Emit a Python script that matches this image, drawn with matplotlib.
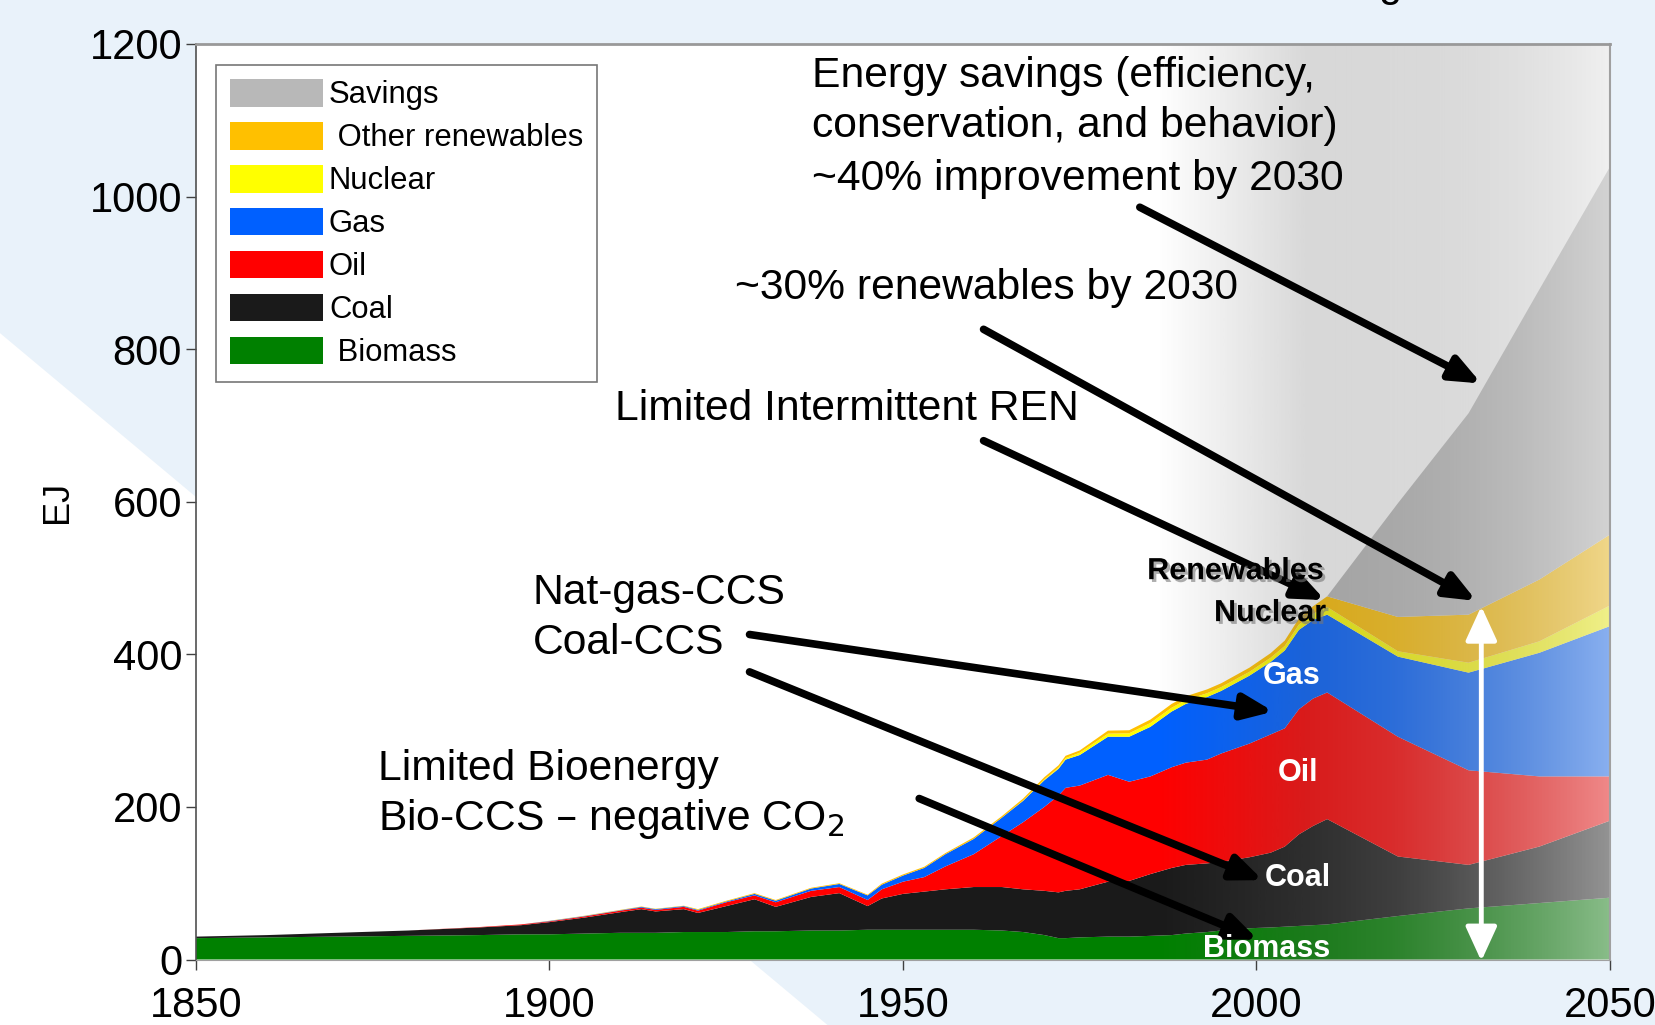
import numpy as np
import matplotlib
matplotlib.use('Agg')
import matplotlib.pyplot as plt
import matplotlib.patheffects as pe
from matplotlib.patches import Polygon

plt.rcParams['font.family'] = ['Liberation Sans', 'DejaVu Sans']

# --- data (EJ per source) ---
years = [1850, 1860, 1870, 1880, 1890, 1896, 1900, 1905, 1910, 1913,
         1915, 1919, 1921, 1925, 1929, 1932, 1937, 1941, 1945, 1947,
         1950, 1953, 1956, 1960, 1964, 1967, 1970, 1972, 1973, 1975,
         1979, 1982, 1985, 1988, 1990, 1993, 1995, 1999, 2002, 2004,
         2006, 2008, 2010, 2020, 2030, 2040, 2050]
biomass = [28, 29, 30, 31, 32, 33, 33, 34, 35, 35,
           35, 36, 36, 36, 37, 37, 38, 38, 39, 39,
           39, 39, 39, 39, 38, 36, 32, 28, 28, 29,
           30, 30, 31, 32, 34, 36, 38, 41, 42, 43,
           44, 45, 46, 57, 67, 74, 81]
coal = [2, 3, 5, 7, 10, 12, 16, 21, 27, 31,
        28, 30, 25, 34, 42, 32, 44, 49, 31, 41,
        47, 50, 53, 56, 57, 56, 58, 60, 62, 63,
        72, 73, 81, 88, 90, 90, 90, 93, 98, 105,
        120, 130, 138, 78, 57, 74, 101]
oil = [0, 0, 0, 0, 0.5, 1, 1, 1.5, 2, 2,
       2, 3, 3, 5, 5, 6, 8, 8, 8, 12,
       16, 19, 30, 43, 67, 88, 110, 127, 135, 136,
       140, 130, 128, 132, 134, 136, 142, 149, 155, 155,
       164, 167, 166, 157, 124, 92, 58]
gas = [0, 0, 0, 0, 0, 0, 0.5, 0.5, 0.5, 1,
       1, 1, 1, 1, 2, 2, 3, 4, 6, 6,
       8, 12, 16, 20, 24, 28, 35, 35, 37, 40,
       50, 59, 65, 73, 77, 82, 82, 89, 95, 102,
       104, 103, 102, 105, 128, 162, 197]
nuclear = [0] * 25 + [0.5, 1, 1.5, 2, 3, 4, 4.5, 5, 5, 5, 5, 5, 5, 5.5, 6,
                      7, 8, 10, 7, 13, 15, 27]
other_ren = [0, 0, 0, 0, 0, 0, 0.3, 0.4, 0.5, 0.5,
             0.5, 0.5, 1, 1, 1, 1, 1, 1, 1, 1.5,
             1.5, 1.5, 1.5, 2, 2, 2.5, 3, 3, 3, 3,
             4, 4, 4.5, 5, 5, 5, 5, 5.5, 6, 7,
             8, 10, 14, 45, 63, 81, 93]
savings = [0] * 43 + [149, 264, 380, 482]

labels = ['Savings', ' Other renewables', 'Nuclear', 'Gas', 'Oil', 'Coal', ' Biomass']
colors = ['#b8b8b8', '#ffc000', '#ffff00', '#0060ff', '#ff0000', '#1a1a1a', '#008000']

fig = plt.figure(figsize=(16.55, 10.25), dpi=100, facecolor='#e9f2fa')
stripe = Polygon([(0, 0.675), (0.5, 0), (0, 0)], closed=True,
                 transform=fig.transFigure, facecolor='white',
                 edgecolor='none', zorder=-5)
fig.add_artist(stripe)
ax = fig.add_axes([0.1184, 0.0639, 0.8544, 0.8932])
ax.set_zorder(1)
ax.set_facecolor('white')

series = [biomass, coal, oil, gas, nuclear, other_ren, savings]
ax.stackplot(years, *series, colors=colors[::-1], labels=labels[::-1],
             linewidth=0, zorder=1)

# fading overlay on the projection part
xs = np.linspace(1850, 2050, 600)
alpha = np.interp(xs, [1986, 2007, 2020, 2050], [0, 0.26, 0.33, 0.6])
gray = np.interp(xs, [1986, 2007, 2020, 2050], [106, 106, 140, 230]) / 255
rgba = np.zeros((1, len(xs), 4))
rgba[0, :, 0] = gray
rgba[0, :, 1] = gray
rgba[0, :, 2] = gray
rgba[0, :, 3] = alpha
ax.imshow(rgba, extent=(1850, 2050, 0, 1200), aspect='auto',
          interpolation='bilinear', zorder=2)

ax.set_xlim(1850, 2050)
ax.set_ylim(0, 1200)
ax.set_xticks([1850, 1900, 1950, 2000, 2050])
ax.set_yticks(range(0, 1201, 200))
ax.tick_params(axis='both', direction='out', length=7, width=1,
               color='#404040', labelsize=30)
ax.tick_params(axis='x', pad=12)
ax.tick_params(axis='y', pad=3)
ax.spines['left'].set_color('#505050')
ax.spines['left'].set_linewidth(1.2)
ax.spines['bottom'].set_color('#a0a0a0')
ax.spines['top'].set_color('#999999')
ax.spines['top'].set_linewidth(2)
ax.spines['right'].set_color('#a0a0a0')
ax.spines['right'].set_linewidth(1.5)

ax.set_ylabel('EJ', fontsize=26)
ax.yaxis.set_label_coords(-0.0856, 0.5)

handles, hl = ax.get_legend_handles_labels()
leg = ax.legend(handles[::-1], hl[::-1], loc='upper left',
                bbox_to_anchor=(0.0141, 0.977), borderaxespad=0,
                fontsize=22.3, frameon=True, fancybox=False, edgecolor='#555555',
                handlelength=3.0, handleheight=1.0, handletextpad=0.2,
                labelspacing=0.37, borderpad=0.45)
leg.get_frame().set_linewidth(1.2)
leg.set_zorder(7)

# annotation texts
txt = dict(fontsize=30.7, ha='left', va='center', zorder=6)
ax.text(1937.1, 1158, 'Energy savings (efficiency,', **txt)
ax.text(1937.1, 1092, 'conservation, and behavior)', **txt)
ax.text(1937.1, 1023, '~40% improvement by 2030', **txt)
ax.text(1926.3, 880, '~30% renewables by 2030', **txt)
ax.text(1909.3, 721, 'Limited Intermittent REN', **txt)
ax.text(1897.6, 480, 'Nat-gas-CCS', **txt)
ax.text(1897.6, 415, 'Coal-CCS', **txt)
ax.text(1875.7, 250, 'Limited Bioenergy', **txt)
ax.text(1875.7, 184, 'Bio-CCS \u2013 negative CO$_2$', **txt)

arrow = dict(arrowstyle='-|>,head_length=0.6,head_width=0.25', lw=5.5,
             color='black', shrinkA=0, shrinkB=0, mutation_scale=30)
arrows = [((1983.5, 986), (2031.8, 755)),
          ((1961.4, 826), (2031.1, 470)),
          ((1961.4, 680), (2009.7, 471)),
          ((1928.3, 426), (2002.4, 325)),
          ((1928.3, 377), (2000.9, 104)),
          ((1952.3, 211), (2000.2, 26))]
for tail, head in arrows:
    ax.annotate('', xy=head, xytext=tail, arrowprops=arrow, zorder=6)

ax.annotate('', xy=(2031.8, 463), xytext=(2031.8, -2),
            arrowprops=dict(arrowstyle='<|-|>,head_length=0.7,head_width=0.32',
                            lw=3.5, color='white', shrinkA=0, shrinkB=0,
                            mutation_scale=30), zorder=6)

# labels on the areas
shadow = [pe.SimplePatchShadow(offset=(2, -2), shadow_rgbFace='#777777', alpha=0.6),
          pe.Normal()]
lab = dict(fontsize=22, fontweight='bold', ha='center', va='center', zorder=7)
ax.text(1997.0, 509, 'Renewables', color='black', path_effects=shadow, **lab)
ax.text(2001.9, 454, 'Nuclear', color='black', path_effects=shadow, **lab)
ax.text(2005.0, 371, 'Gas', color='white', **lab)
ax.text(2005.9, 244, 'Oil', color='white', **lab)
ax.text(2005.9, 107, 'Coal', color='white', **lab)
ax.text(2001.5, 14, 'Biomass', color='white', **lab)

# bit of the cut-off slide title
fig.text(1390 / 1655, 1.004, 'g', fontsize=30, ha='center', va='baseline')

fig.savefig('out.png', dpi=100, facecolor=fig.get_facecolor())
